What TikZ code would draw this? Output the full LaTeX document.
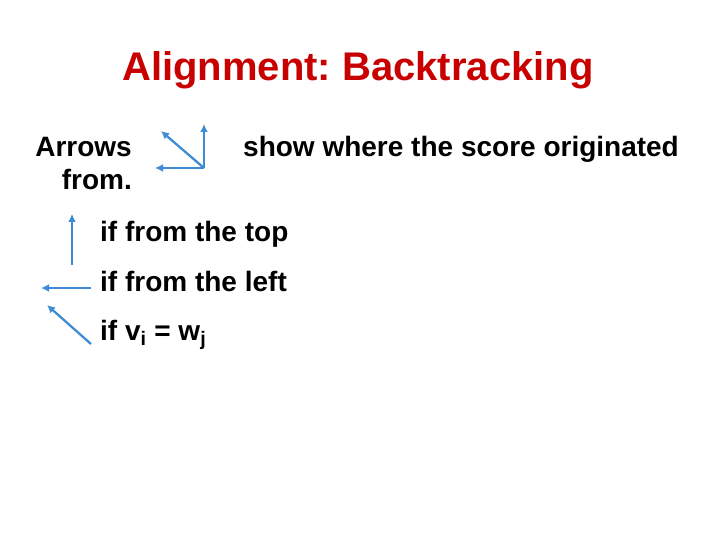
\documentclass[tikz,border=0pt]{standalone}
\usepackage{fontspec}
\setmainfont{Liberation Sans}
\usetikzlibrary{arrows.meta}
\definecolor{titlered}{RGB}{200,0,0}
\definecolor{arrowblue}{RGB}{64,140,212}
\tikzset{
  body/.style={font=\fontsize{28}{32}\selectfont\bfseries, inner sep=0pt},
  ptr/.style={draw=arrowblue, line width=2.3pt, -{Latex[length=8pt,width=8pt]}},
}
\frenchspacing
\begin{document}
\begin{tikzpicture}[x=1pt,y=-1pt]
\useasboundingbox (0,0) rectangle (720,540);
\node[font=\fontsize{40}{44}\selectfont\bfseries, text=titlered, inner sep=0pt, anchor=base] (title) at (358,81) {Alignment: Backtracking};
\node[body, anchor=base east] (arrows) at (132,157) {Arrows};
\node[body, anchor=base east] (from) at (132,190) {from.};
\node[body, anchor=base west] (show) at (243,157) {show where the score originated};
\node[body, anchor=base west] (top) at (100,241) {if from the top};
\node[body, anchor=base west] (left) at (100,291) {if from the left};
\node[body, anchor=base west] (eq) at (100,340) {if v\textsubscript{i} = w\textsubscript{j}};
% legend arrows
\coordinate (c) at (204,168);
\coordinate (cu) at (204,124);
\coordinate (cl) at (155,168);
\coordinate (cd) at (161,131);
\draw[ptr] (c) -- (cu);
\draw[ptr] (c) -- (cl);
\draw[ptr] (c) -- (cd);
\coordinate (u0) at (72,265);
\coordinate (u1) at (72,214);
\draw[ptr] (u0) -- (u1);
\coordinate (l0) at (91,288);
\coordinate (l1) at (41,288);
\draw[ptr] (l0) -- (l1);
\coordinate (d0) at (91,344);
\coordinate (d1) at (47,305);
\draw[ptr] (d0) -- (d1);
\end{tikzpicture}
\end{document}
